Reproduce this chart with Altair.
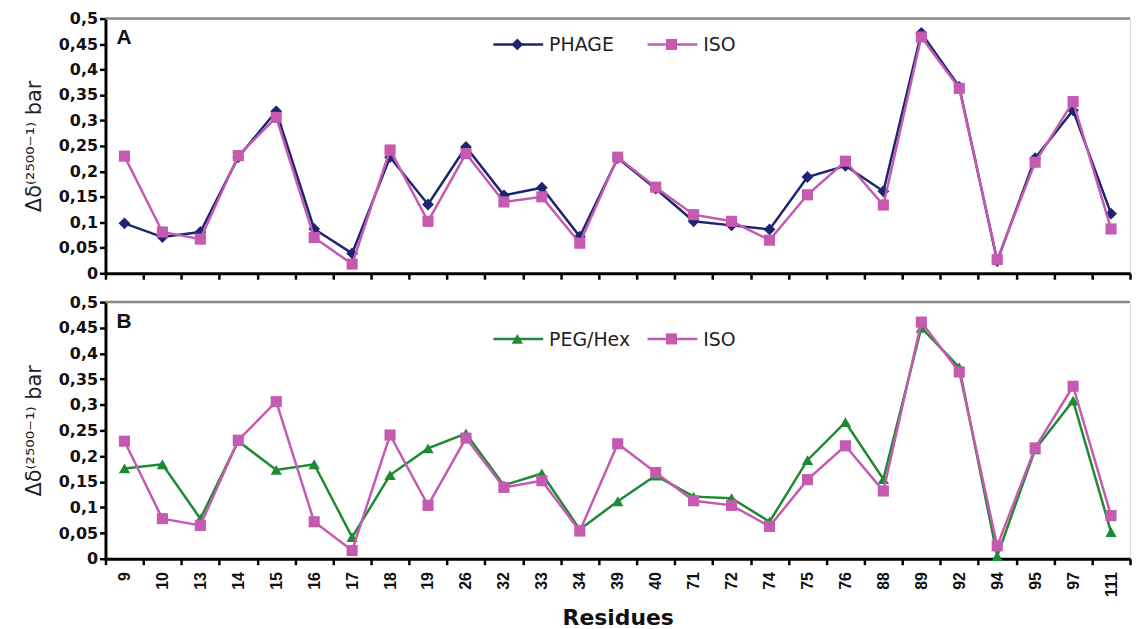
import altair as alt
import pandas as pd

residues = ["9", "10", "13", "14", "15", "16", "17", "18", "19", "26", "32", "33", "34", "39",
            "40", "71", "72", "74", "75", "76", "88", "89", "92", "94", "95", "97", "111"]

phage = [0.098, 0.071, 0.081, 0.228, 0.318, 0.087, 0.039, 0.228, 0.135, 0.248, 0.153, 0.168, 0.072,
         0.226, 0.166, 0.102, 0.094, 0.086, 0.189, 0.211, 0.161, 0.472, 0.366, 0.024, 0.226, 0.320, 0.117]
iso_a = [0.230, 0.081, 0.067, 0.231, 0.306, 0.070, 0.018, 0.242, 0.102, 0.235, 0.140, 0.150, 0.059,
         0.228, 0.169, 0.115, 0.102, 0.065, 0.154, 0.220, 0.134, 0.464, 0.363, 0.027, 0.218, 0.337, 0.087]
peg = [0.176, 0.184, 0.078, 0.229, 0.173, 0.184, 0.042, 0.163, 0.215, 0.244, 0.143, 0.166, 0.057,
       0.112, 0.162, 0.121, 0.118, 0.072, 0.192, 0.266, 0.155, 0.450, 0.373, 0.005, 0.213, 0.308, 0.052]
iso_b = [0.229, 0.078, 0.065, 0.231, 0.306, 0.072, 0.016, 0.241, 0.104, 0.235, 0.139, 0.152, 0.054,
         0.224, 0.168, 0.113, 0.104, 0.063, 0.154, 0.220, 0.132, 0.461, 0.364, 0.025, 0.216, 0.336, 0.084]

y_ticks = [0, 0.05, 0.1, 0.15, 0.2, 0.25, 0.3, 0.35, 0.4, 0.45, 0.5]

NAVY = "#1d2570"
PINK = "#c55bb0"
GREEN = "#1f8a34"
FONT = "Liberation Sans"
WIDE = "DejaVu Sans"
W = 1030
H_TOP = 256
H_BOT = 258


def xenc(show_labels):
    return alt.X(
        "res:N", sort=residues, bandPosition=0.5,
        scale=alt.Scale(type="band", paddingInner=0, paddingOuter=0),
        axis=alt.Axis(
            title="Residues" if show_labels else None,
            labels=show_labels, labelAngle=270, labelFont=FONT, labelFontSize=16,
            labelFontWeight="bold", labelColor="#111", labelPadding=7,
            labelBaseline="middle", labelAlign="right",
            tickBand="extent", ticks=True, tickSize=6, tickWidth=2.5, tickColor="black",
            domainColor="black", domainWidth=3, grid=False,
            titleFont=WIDE, titleFontSize=22, titleFontWeight="bold", titleColor="#111",
            titlePadding=11,
        ),
    )


yaxis = alt.Axis(
    values=y_ticks, format=".2~f", labelExpr="replace(datum.label, '.', ',')",
    labelFont=WIDE, labelFontSize=16, labelFontWeight="bold", labelColor="#111",
    labelPadding=2, labelOverlap=False, tickSize=6, tickWidth=2.5, tickColor="black",
    domainColor="black", domainWidth=3, grid=False,
    title="Δδ⁽²⁵⁰⁰⁻¹⁾ bar", titleFont=WIDE, titleFontSize=21,
    titleFontWeight="normal", titleColor="#222", titlePadding=14,
)


def yenc():
    return alt.Y("val:Q", scale=alt.Scale(domain=[0, 0.5], nice=False), axis=yaxis)


def series_layer(df, color, shape, size, show):
    base = alt.Chart(df)
    line = base.mark_line(color=color, strokeWidth=2.5).encode(x=xenc(show), y=yenc())
    pts = base.mark_point(color=color, shape=shape, filled=True, opacity=1, size=size).encode(
        x=xenc(show), y=yenc()
    )
    return line + pts


def legend_item(x0, y0, color, shape, size, label):
    dummy = pd.DataFrame({"k": [0]})
    rule = alt.Chart(dummy).mark_rule(color=color, strokeWidth=2.5).encode(
        x=alt.value(x0), x2=alt.value(x0 + 50), y=alt.value(y0)
    )
    pt = alt.Chart(dummy).mark_point(color=color, shape=shape, filled=True, opacity=1, size=size).encode(
        x=alt.value(x0 + 24), y=alt.value(y0)
    )
    txt = alt.Chart(dummy).mark_text(font=WIDE, fontSize=19, align="left", baseline="middle",
                                     color="#222").encode(
        x=alt.value(x0 + 56), y=alt.value(y0 + 1), text=alt.value(label)
    )
    return rule + pt + txt


def panel(first, first_name, first_color, first_shape, first_size, iso, letter, show, h):
    df1 = pd.DataFrame({"res": residues, "val": first})
    df2 = pd.DataFrame({"res": residues, "val": iso})
    dummy = pd.DataFrame({"k": [0]})
    toprule = alt.Chart(dummy).mark_rule(color="#8a8a8a", strokeWidth=2.5).encode(
        x=alt.value(0), x2=alt.value(W), y=alt.value(0)
    )
    lab = alt.Chart(dummy).mark_text(
        font=FONT, fontSize=21, fontWeight="bold", align="left", baseline="middle", color="#111"
    ).encode(x=alt.value(11), y=alt.value(20), text=alt.value(letter))
    l1 = series_layer(df1, first_color, first_shape, first_size, show)
    l2 = series_layer(df2, PINK, "square", 125, show)
    ly = 26 if letter == "A" else 37
    leg = legend_item(390, ly, first_color, first_shape, first_size, first_name) + \
        legend_item(545, ly, PINK, "square", 125, "ISO")
    return alt.layer(toprule, l1, l2, lab, leg).properties(width=W, height=h)


top = panel(phage, "PHAGE", NAVY, "diamond", 140, iso_a, "A", False, H_TOP)
bot = panel(peg, "PEG/Hex", GREEN, "triangle-up", 130, iso_b, "B", True, H_BOT)

chart = alt.vconcat(top, bot, spacing=11).properties(
    padding={"left": 15, "top": 0, "right": 0, "bottom": 0}
).configure_view(stroke=None).configure(background="white")

chart.save("out.html", embed_options={"renderer": "svg", "actions": False})
